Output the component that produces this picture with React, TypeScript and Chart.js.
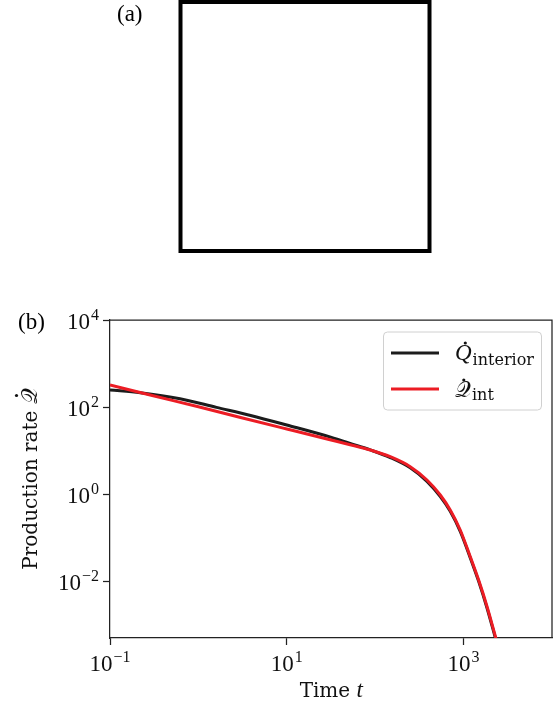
import React, { useEffect, useRef } from 'react';
import { Chart, registerables } from 'chart.js';

Chart.register(...registerables);

// Production rate from the interior solution
const timeInterior = [0.1, 0.22, 0.62, 1.6, 3.9, 10, 32, 52, 88, 148, 249, 385, 545, 706, 916, 1190, 1480, 1840, 2290, 2510];
const rateInterior = [246, 213, 155, 98, 64, 38.5, 20, 14.5, 10.3, 6.9, 4.0, 1.95, 0.87, 0.4, 0.138, 0.034, 0.0098, 0.0024, 0.00049, 0.00025];

// Production rate from the integral approximation
const timeInt = [0.1, 0.3, 1, 3, 10, 30, 52, 88, 148, 249, 385, 545, 706, 916, 1190, 1480, 1840, 2290, 2510];
const rateInt = [321, 184, 101, 57.5, 31.2, 17.9, 13.6, 10.3, 7.2, 4.25, 2.1, 0.95, 0.43, 0.149, 0.036, 0.0105, 0.0026, 0.00053, 0.00027];

// Decade ticks and their exponents
const xTickValues = [0.1, 10, 1000];
const xTickExponents = ['\u22121', '1', '3'];
const yTickValues = [1e-2, 1, 1e2, 1e4];
const yTickExponents = ['\u22122', '0', '2', '4'];

const X_MIN = 0.1;
const X_MAX = 1e4;
const Y_MIN = Math.pow(10, -3.31);
const Y_MAX = 1e4;

const BLACK = '#1c1c1c';
const RED = '#ec1c24';
const AXIS = '#222222';

const NUM_FONT = '23px "Liberation Serif", serif';
const SUP_FONT = '16px "Liberation Serif", serif';
const WORD_FONT = '20px "DejaVu Serif", serif';

function drawPower(ctx: CanvasRenderingContext2D, exp: string, x: number, baseline: number, align: 'right' | 'center') {
  ctx.font = NUM_FONT;
  const wBase = ctx.measureText('10').width;
  ctx.font = SUP_FONT;
  const wExp = ctx.measureText(exp).width;
  const total = wBase + wExp + 1;
  const start = align === 'right' ? x - total : x - total / 2;
  ctx.textAlign = 'left';
  ctx.textBaseline = 'alphabetic';
  ctx.font = NUM_FONT;
  ctx.fillText('10', start, baseline);
  ctx.font = SUP_FONT;
  ctx.fillText(exp, start + wBase + 1, baseline - 9.5);
}

function dot(ctx: CanvasRenderingContext2D, x: number, y: number) {
  ctx.beginPath();
  ctx.arc(x, y, 1.6, 0, Math.PI * 2);
  ctx.fill();
}

const decorations = {
  id: 'decorations',
  afterDraw(chart: Chart) {
    const ctx = chart.ctx;
    const area = chart.chartArea;
    const xs = chart.scales.x;
    const ys = chart.scales.y;
    ctx.save();
    ctx.fillStyle = '#000';

    // panel (a): empty framed image
    ctx.font = '23px "Liberation Serif", serif';
    ctx.textAlign = 'left';
    ctx.textBaseline = 'alphabetic';
    ctx.fillText('(a)', 117, 21);
    ctx.strokeStyle = '#000';
    ctx.lineWidth = 4;
    ctx.strokeRect(180.5, 2, 249, 249);

    // panel (b) label
    ctx.fillText('(b)', 18, 329);

    // remaining spines
    ctx.strokeStyle = AXIS;
    ctx.lineWidth = 1.25;
    ctx.beginPath();
    ctx.moveTo(area.left, area.top);
    ctx.lineTo(area.right, area.top);
    ctx.lineTo(area.right, area.bottom);
    ctx.stroke();

    // tick labels
    ctx.fillStyle = '#111';
    yTickValues.forEach((v, i) => {
      const y = ys.getPixelForValue(v);
      drawPower(ctx, yTickExponents[i], 99, y + 9, 'right');
    });
    xTickValues.forEach((v, i) => {
      const x = xs.getPixelForValue(v);
      drawPower(ctx, xTickExponents[i], x, area.bottom + 33, 'center');
    });

    // x title
    ctx.font = WORD_FONT;
    const timeW = ctx.measureText('Time ').width;
    ctx.font = 'italic 21px "Liberation Serif", serif';
    const tW = ctx.measureText('t').width;
    const cx = (area.left + area.right) / 2;
    let sx = cx - (timeW + tW) / 2;
    ctx.font = WORD_FONT;
    ctx.fillText('Time ', sx, 697);
    ctx.font = 'italic 23px "Liberation Serif", serif';
    ctx.fillText('t', sx + timeW, 697);

    // y title (rotated)
    ctx.save();
    ctx.translate(36.5, (area.top + area.bottom) / 2);
    ctx.rotate(-Math.PI / 2);
    ctx.font = WORD_FONT;
    const prodW = ctx.measureText('Production rate ').width;
    ctx.font = '22px "DejaVu Sans", serif';
    const qW = ctx.measureText('\u{1D4AC}').width;
    const start = -(prodW + qW) / 2;
    ctx.font = WORD_FONT;
    ctx.fillText('Production rate ', start, 0);
    ctx.font = '22px "DejaVu Sans", serif';
    ctx.fillText('\u{1D4AC}', start + prodW, 0);
    dot(ctx, start + prodW + qW * 0.55, -20);
    ctx.restore();

    // legend
    ctx.beginPath();
    ctx.roundRect(383.5, 332, 158, 78, 4);
    ctx.fillStyle = 'rgba(255,255,255,0.8)';
    ctx.fill();
    ctx.strokeStyle = '#d0d0d0';
    ctx.lineWidth = 1;
    ctx.stroke();

    ctx.lineWidth = 3;
    ctx.strokeStyle = BLACK;
    ctx.beginPath();
    ctx.moveTo(391, 353);
    ctx.lineTo(439, 353);
    ctx.stroke();
    ctx.strokeStyle = RED;
    ctx.beginPath();
    ctx.moveTo(391, 389);
    ctx.lineTo(439, 389);
    ctx.stroke();

    ctx.fillStyle = '#111';
    ctx.font = 'italic 23px "Liberation Serif", serif';
    const q1W = ctx.measureText('Q').width;
    ctx.fillText('Q', 455, 360);
    dot(ctx, 455 + q1W * 0.62, 343);
    ctx.font = '16px "DejaVu Serif", serif';
    ctx.fillText('interior', 455 + q1W + 1, 365);

    ctx.font = '22px "DejaVu Sans", serif';
    const q2W = ctx.measureText('\u{1D4AC}').width;
    ctx.fillText('\u{1D4AC}', 455, 397);
    dot(ctx, 455 + q2W * 0.55, 380);
    ctx.font = '16px "DejaVu Serif", serif';
    ctx.fillText('int', 455 + q2W + 1, 400);

    ctx.restore();
  },
};

export default function App() {
  const canvasRef = useRef<HTMLCanvasElement | null>(null);

  useEffect(() => {
    const canvas = canvasRef.current;
    if (!canvas) return;
    const chart = new Chart(canvas, {
      type: 'line',
      data: {
        datasets: [
          {
            label: 'Q interior',
            data: timeInterior.map((t, i) => ({ x: t, y: rateInterior[i] })),
            borderColor: BLACK,
            borderWidth: 3,
            pointRadius: 0,
            cubicInterpolationMode: 'monotone',
            clip: 0,
            order: 2,
          },
          {
            label: 'Q int',
            data: timeInt.map((t, i) => ({ x: t, y: rateInt[i] })),
            borderColor: RED,
            borderWidth: 3,
            pointRadius: 0,
            cubicInterpolationMode: 'monotone',
            clip: 0,
            order: 1,
          },
        ],
      },
      options: {
        animation: false,
        responsive: false,
        devicePixelRatio: 1,
        layout: { padding: { top: 320, right: 5, bottom: 0, left: 0 } },
        plugins: { legend: { display: false }, tooltip: { enabled: false } },
        scales: {
          x: {
            type: 'logarithmic',
            min: X_MIN,
            max: X_MAX,
            afterBuildTicks: (scale: any) => {
              scale.ticks = xTickValues.map((v) => ({ value: v }));
            },
            afterFit: (scale: any) => {
              scale.height = 69;
            },
            ticks: { display: false },
            grid: { drawOnChartArea: false, drawTicks: true, tickLength: 7, tickWidth: 1.25, tickColor: AXIS },
            border: { display: true, color: AXIS, width: 1.25 },
          },
          y: {
            type: 'logarithmic',
            min: Y_MIN,
            max: Y_MAX,
            afterBuildTicks: (scale: any) => {
              scale.ticks = yTickValues.map((v) => ({ value: v }));
            },
            afterFit: (scale: any) => {
              scale.width = 110;
            },
            ticks: { display: false },
            grid: { drawOnChartArea: false, drawTicks: true, tickLength: 7, tickWidth: 1.25, tickColor: AXIS },
            border: { display: true, color: AXIS, width: 1.25 },
          },
        },
      },
      plugins: [decorations],
    });
    return () => chart.destroy();
  }, []);

  return (
    <div style={{ position: 'absolute', left: 0, top: 0, width: 557, height: 707, background: '#fff' }}>
      <canvas ref={canvasRef} width={557} height={707} style={{ width: 557, height: 707, display: 'block' }} />
    </div>
  );
}
